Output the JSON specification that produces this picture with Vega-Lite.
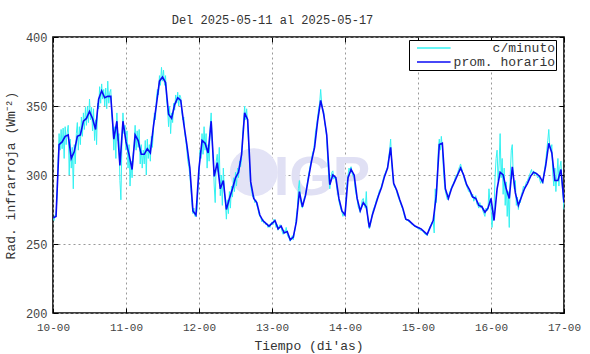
{
"$schema": "https://vega.github.io/schema/vega-lite/v6.json",
"width": 511, "height": 276,
"autosize": "none",
"padding": {"left": 53, "top": 37, "right": 26, "bottom": 41},
"background": "white",
"title": {"text": "Del 2025-05-11 al 2025-05-17", "font": "Liberation Mono", "fontSize": 12, "fontWeight": "normal", "color": "#333", "dx": -36, "offset": 4},
"config": {
  "view": {"stroke": "#000", "strokeWidth": 1.6},
  "axis": {"labelFont": "Liberation Mono", "titleFont": "Liberation Mono", "labelFontSize": 11, "titleFontSize": 13, "titleFontWeight": "normal", "labelColor": "#444", "titleColor": "#333", "domain": false, "tickColor": "#000", "tickSize": -5, "gridColor": "#999", "gridDash": [2, 3], "gridWidth": 1, "labelFlush": false}
},
"datasets": {
"hora": [
{"t":0,"v":269},{"t":1,"v":270},{"t":2,"v":322},{"t":3,"v":324},{"t":4,"v":328},{"t":5,"v":329},{"t":6,"v":312},{"t":7,"v":317},{"t":8,"v":328},{"t":9,"v":329},
{"t":10,"v":339},{"t":11,"v":341},{"t":12,"v":346},{"t":13,"v":341},{"t":14,"v":333},{"t":15,"v":355},{"t":16,"v":361},{"t":17,"v":356},{"t":18,"v":357},{"t":19,"v":357},
{"t":20,"v":326},{"t":21,"v":339},{"t":22,"v":307},{"t":23,"v":339},{"t":24,"v":324},{"t":25,"v":315},{"t":26,"v":304},{"t":27,"v":329},{"t":28,"v":325},{"t":29,"v":315},
{"t":30,"v":315},{"t":31,"v":319},{"t":32,"v":316},{"t":33,"v":335},{"t":34,"v":351},{"t":35,"v":368},{"t":36,"v":371},{"t":37,"v":367},{"t":38,"v":344},{"t":39,"v":341},
{"t":40,"v":351},{"t":41,"v":356},{"t":42,"v":354},{"t":43,"v":337},{"t":44,"v":322},{"t":45,"v":305},{"t":46,"v":274},{"t":47,"v":271},{"t":48,"v":305},{"t":49,"v":325},
{"t":50,"v":323},{"t":51,"v":316},{"t":52,"v":339},{"t":53,"v":299},{"t":54,"v":309},{"t":55,"v":290},{"t":56,"v":296},{"t":57,"v":275},{"t":58,"v":283},{"t":59,"v":290},
{"t":60,"v":298},{"t":61,"v":302},{"t":62,"v":315},{"t":63,"v":345},{"t":64,"v":340},{"t":65,"v":295},{"t":66,"v":283},{"t":67,"v":280},{"t":68,"v":271},{"t":69,"v":267},
{"t":70,"v":265},{"t":71,"v":263},{"t":72,"v":265},{"t":73,"v":267},{"t":74,"v":261},{"t":75,"v":263},{"t":76,"v":258},{"t":77,"v":259},{"t":78,"v":253},{"t":79,"v":255},
{"t":80,"v":266},{"t":81,"v":288},{"t":82,"v":277},{"t":83,"v":285},{"t":84,"v":298},{"t":85,"v":310},{"t":86,"v":320},{"t":87,"v":339},{"t":88,"v":354},{"t":89,"v":344},
{"t":90,"v":329},{"t":91,"v":293},{"t":92,"v":300},{"t":93,"v":298},{"t":94,"v":283},{"t":95,"v":274},{"t":96,"v":271},{"t":97,"v":298},{"t":98,"v":304},{"t":99,"v":300},
{"t":100,"v":283},{"t":101,"v":274},{"t":102,"v":280},{"t":103,"v":277},{"t":104,"v":262},{"t":105,"v":271},{"t":106,"v":278},{"t":107,"v":285},{"t":108,"v":291},{"t":109,"v":299},
{"t":110,"v":305},{"t":111,"v":320},{"t":112,"v":294},{"t":113,"v":289},{"t":114,"v":282},{"t":115,"v":276},{"t":116,"v":268},{"t":117,"v":267},{"t":118,"v":265},{"t":119,"v":263},
{"t":120,"v":262},{"t":121,"v":261},{"t":122,"v":259},{"t":123,"v":257},{"t":124,"v":262},{"t":125,"v":267},{"t":126,"v":285},{"t":127,"v":322},{"t":128,"v":323},{"t":129,"v":290},
{"t":130,"v":283},{"t":131,"v":290},{"t":132,"v":295},{"t":133,"v":300},{"t":134,"v":305},{"t":135,"v":300},{"t":136,"v":293},{"t":137,"v":289},{"t":138,"v":284},{"t":139,"v":283},
{"t":140,"v":278},{"t":141,"v":277},{"t":142,"v":273},{"t":143,"v":276},{"t":144,"v":283},{"t":145,"v":267},{"t":146,"v":290},{"t":147,"v":302},{"t":148,"v":300},{"t":149,"v":290},
{"t":150,"v":283},{"t":151,"v":306},{"t":152,"v":287},{"t":153,"v":278},{"t":154,"v":284},{"t":155,"v":290},{"t":156,"v":294},{"t":157,"v":299},{"t":158,"v":302},{"t":159,"v":301},
{"t":160,"v":299},{"t":161,"v":295},{"t":162,"v":307},{"t":163,"v":323},{"t":164,"v":316},{"t":165,"v":296},{"t":166,"v":296},{"t":167,"v":304},{"t":168,"v":280}
],
"minuto": [
{"t":0,"v":268},{"t":0.33,"v":267},{"t":0.67,"v":271},
{"t":1,"v":271},{"t":1.33,"v":285},{"t":1.67,"v":310},
{"t":2,"v":330},{"t":2.33,"v":318},{"t":2.67,"v":333},
{"t":3,"v":319},{"t":3.33,"v":334},{"t":3.67,"v":312},
{"t":4,"v":335},{"t":4.33,"v":322},{"t":4.67,"v":331},
{"t":5,"v":336},{"t":5.33,"v":300},{"t":5.67,"v":326},
{"t":6,"v":305},{"t":6.33,"v":320},{"t":6.67,"v":290},
{"t":7,"v":322},{"t":7.33,"v":308},{"t":7.67,"v":330},
{"t":8,"v":338},{"t":8.33,"v":318},{"t":8.67,"v":335},
{"t":9,"v":322},{"t":9.33,"v":342},{"t":9.67,"v":328},
{"t":10,"v":345},{"t":10.33,"v":333},{"t":10.67,"v":349},
{"t":11,"v":336},{"t":11.33,"v":350},{"t":11.67,"v":338},
{"t":12,"v":355},{"t":12.33,"v":340},{"t":12.67,"v":349},
{"t":13,"v":332},{"t":13.33,"v":348},{"t":13.67,"v":325},
{"t":14,"v":340},{"t":14.33,"v":322},{"t":14.67,"v":352},
{"t":15,"v":348},{"t":15.33,"v":364},{"t":15.67,"v":352},
{"t":16,"v":366},{"t":16.33,"v":355},{"t":16.67,"v":362},
{"t":17,"v":350},{"t":17.33,"v":363},{"t":17.67,"v":348},
{"t":18,"v":368},{"t":18.33,"v":352},{"t":18.67,"v":360},
{"t":19,"v":362},{"t":19.33,"v":345},{"t":19.67,"v":335},
{"t":20,"v":318},{"t":20.33,"v":335},{"t":20.67,"v":312},
{"t":21,"v":345},{"t":21.33,"v":325},{"t":21.67,"v":330},
{"t":22,"v":296},{"t":22.33,"v":282},{"t":22.67,"v":325},
{"t":23,"v":345},{"t":23.33,"v":330},{"t":23.67,"v":336},
{"t":24,"v":318},{"t":24.33,"v":332},{"t":24.67,"v":305},
{"t":25,"v":322},{"t":25.33,"v":292},{"t":25.67,"v":310},
{"t":26,"v":298},{"t":26.33,"v":315},{"t":26.67,"v":322},
{"t":27,"v":336},{"t":27.33,"v":318},{"t":27.67,"v":332},
{"t":28,"v":320},{"t":28.33,"v":333},{"t":28.67,"v":308},
{"t":29,"v":322},{"t":29.33,"v":305},{"t":29.67,"v":318},
{"t":30,"v":308},{"t":30.33,"v":325},{"t":30.67,"v":300},
{"t":31,"v":326},{"t":31.33,"v":312},{"t":31.67,"v":322},
{"t":32,"v":310},{"t":32.33,"v":328},{"t":32.67,"v":320},
{"t":33,"v":332},{"t":33.33,"v":345},{"t":33.67,"v":340},
{"t":34,"v":355},{"t":34.33,"v":362},{"t":34.67,"v":358},
{"t":35,"v":372},{"t":35.33,"v":365},{"t":35.67,"v":378},
{"t":36,"v":368},{"t":36.33,"v":376},{"t":36.67,"v":365},
{"t":37,"v":372},{"t":37.33,"v":355},{"t":37.67,"v":348},
{"t":38,"v":335},{"t":38.33,"v":350},{"t":38.67,"v":330},
{"t":39,"v":345},{"t":39.33,"v":338},{"t":39.67,"v":352},
{"t":40,"v":347},{"t":40.33,"v":358},{"t":40.67,"v":352},
{"t":41,"v":360},{"t":41.33,"v":350},{"t":41.67,"v":358},
{"t":42,"v":356},{"t":42.33,"v":346},{"t":42.67,"v":340},
{"t":43,"v":342},{"t":43.33,"v":330},{"t":43.67,"v":325},
{"t":44,"v":318},{"t":44.33,"v":310},{"t":44.67,"v":306},
{"t":45,"v":300},{"t":45.33,"v":290},{"t":45.67,"v":280},
{"t":46,"v":272},{"t":46.33,"v":276},{"t":46.67,"v":270},
{"t":47,"v":270},{"t":47.33,"v":274},{"t":47.67,"v":290},
{"t":48,"v":300},{"t":48.33,"v":318},{"t":48.67,"v":312},
{"t":49,"v":330},{"t":49.33,"v":315},{"t":49.67,"v":335},
{"t":50,"v":318},{"t":50.33,"v":330},{"t":50.67,"v":305},
{"t":51,"v":322},{"t":51.33,"v":310},{"t":51.67,"v":335},
{"t":52,"v":345},{"t":52.33,"v":325},{"t":52.67,"v":312},
{"t":53,"v":292},{"t":53.33,"v":280},{"t":53.67,"v":310},
{"t":54,"v":315},{"t":54.33,"v":302},{"t":54.67,"v":320},
{"t":55,"v":285},{"t":55.33,"v":300},{"t":55.67,"v":278},
{"t":56,"v":305},{"t":56.33,"v":288},{"t":56.67,"v":280},
{"t":57,"v":268},{"t":57.33,"v":282},{"t":57.67,"v":272},
{"t":58,"v":288},{"t":58.33,"v":276},{"t":58.67,"v":292},
{"t":59,"v":284},{"t":59.33,"v":298},{"t":59.67,"v":288},
{"t":60,"v":302},{"t":60.33,"v":292},{"t":60.67,"v":305},
{"t":61,"v":298},{"t":61.33,"v":310},{"t":61.67,"v":306},
{"t":62,"v":312},{"t":62.33,"v":328},{"t":62.67,"v":338},
{"t":63,"v":350},{"t":63.33,"v":340},{"t":63.67,"v":348},
{"t":64,"v":336},{"t":64.33,"v":322},{"t":64.67,"v":305},
{"t":65,"v":292},{"t":65.33,"v":288},{"t":65.67,"v":284},
{"t":66,"v":285},{"t":66.33,"v":280},{"t":66.67,"v":282},
{"t":67,"v":278},{"t":67.33,"v":276},{"t":67.67,"v":272},
{"t":68,"v":270},{"t":68.33,"v":269},{"t":68.67,"v":266},
{"t":69,"v":268},{"t":69.33,"v":265},{"t":69.67,"v":266},
{"t":70,"v":264},{"t":70.33,"v":265},{"t":70.67,"v":262},
{"t":71,"v":264},{"t":71.33,"v":262},{"t":71.67,"v":265},
{"t":72,"v":266},{"t":72.33,"v":264},{"t":72.67,"v":268},
{"t":73,"v":266},{"t":73.33,"v":262},{"t":73.67,"v":264},
{"t":74,"v":260},{"t":74.33,"v":263},{"t":74.67,"v":264},
{"t":75,"v":262},{"t":75.33,"v":259},{"t":75.67,"v":257},
{"t":76,"v":260},{"t":76.33,"v":258},{"t":76.67,"v":262},
{"t":77,"v":257},{"t":77.33,"v":255},{"t":77.67,"v":254},
{"t":78,"v":252},{"t":78.33,"v":254},{"t":78.67,"v":256},
{"t":79,"v":253},{"t":79.33,"v":258},{"t":79.67,"v":262},
{"t":80,"v":270},{"t":80.33,"v":276},{"t":80.67,"v":290},
{"t":81,"v":296},{"t":81.33,"v":282},{"t":81.67,"v":278},
{"t":82,"v":276},{"t":82.33,"v":281},{"t":82.67,"v":284},
{"t":83,"v":286},{"t":83.33,"v":290},{"t":83.67,"v":295},
{"t":84,"v":300},{"t":84.33,"v":304},{"t":84.67,"v":308},
{"t":85,"v":311},{"t":85.33,"v":316},{"t":85.67,"v":318},
{"t":86,"v":324},{"t":86.33,"v":332},{"t":86.67,"v":336},
{"t":87,"v":342},{"t":87.33,"v":348},{"t":87.67,"v":352},
{"t":88,"v":362},{"t":88.33,"v":352},{"t":88.67,"v":348},
{"t":89,"v":346},{"t":89.33,"v":338},{"t":89.67,"v":334},
{"t":90,"v":326},{"t":90.33,"v":310},{"t":90.67,"v":298},
{"t":91,"v":290},{"t":91.33,"v":296},{"t":91.67,"v":302},
{"t":92,"v":303},{"t":92.33,"v":297},{"t":92.67,"v":299},
{"t":93,"v":296},{"t":93.33,"v":290},{"t":93.67,"v":286},
{"t":94,"v":281},{"t":94.33,"v":278},{"t":94.67,"v":275},
{"t":95,"v":273},{"t":95.33,"v":270},{"t":95.67,"v":272},
{"t":96,"v":272},{"t":96.33,"v":282},{"t":96.67,"v":294},
{"t":97,"v":300},{"t":97.33,"v":305},{"t":97.67,"v":303},
{"t":98,"v":306},{"t":98.33,"v":301},{"t":98.67,"v":299},
{"t":99,"v":298},{"t":99.33,"v":290},{"t":99.67,"v":286},
{"t":100,"v":282},{"t":100.33,"v":277},{"t":100.67,"v":275},
{"t":101,"v":273},{"t":101.33,"v":277},{"t":101.67,"v":282},
{"t":102,"v":283},{"t":102.33,"v":279},{"t":102.67,"v":276},
{"t":103,"v":288},{"t":103.33,"v":272},{"t":103.67,"v":265},
{"t":104,"v":261},{"t":104.33,"v":264},{"t":104.67,"v":268},
{"t":105,"v":272},{"t":105.33,"v":275},{"t":105.67,"v":277},
{"t":106,"v":279},{"t":106.33,"v":282},{"t":106.67,"v":284},
{"t":107,"v":286},{"t":107.33,"v":289},{"t":107.67,"v":290},
{"t":108,"v":292},{"t":108.33,"v":295},{"t":108.67,"v":298},
{"t":109,"v":300},{"t":109.33,"v":302},{"t":109.67,"v":304},
{"t":110,"v":306},{"t":110.33,"v":312},{"t":110.67,"v":318},
{"t":111,"v":326},{"t":111.33,"v":310},{"t":111.67,"v":300},
{"t":112,"v":293},{"t":112.33,"v":291},{"t":112.67,"v":290},
{"t":113,"v":288},{"t":113.33,"v":285},{"t":113.67,"v":283},
{"t":114,"v":281},{"t":114.33,"v":279},{"t":114.67,"v":277},
{"t":115,"v":275},{"t":115.33,"v":272},{"t":115.67,"v":269},
{"t":116,"v":268},{"t":116.33,"v":267},{"t":116.67,"v":268},
{"t":117,"v":266},{"t":117.33,"v":266},{"t":117.67,"v":265},
{"t":118,"v":264},{"t":118.33,"v":264},{"t":118.67,"v":263},
{"t":119,"v":263},{"t":119.33,"v":262},{"t":119.67,"v":262},
{"t":120,"v":261},{"t":120.33,"v":262},{"t":120.67,"v":260},
{"t":121,"v":260},{"t":121.33,"v":260},{"t":121.67,"v":259},
{"t":122,"v":258},{"t":122.33,"v":257},{"t":122.67,"v":257},
{"t":123,"v":256},{"t":123.33,"v":258},{"t":123.67,"v":261},
{"t":124,"v":263},{"t":124.33,"v":264},{"t":124.67,"v":266},
{"t":125,"v":266},{"t":125.33,"v":258},{"t":125.67,"v":290},
{"t":126,"v":280},{"t":126.33,"v":300},{"t":126.67,"v":318},
{"t":127,"v":326},{"t":127.33,"v":318},{"t":127.67,"v":328},
{"t":128,"v":320},{"t":128.33,"v":305},{"t":128.67,"v":294},
{"t":129,"v":288},{"t":129.33,"v":285},{"t":129.67,"v":282},
{"t":130,"v":284},{"t":130.33,"v":287},{"t":130.67,"v":289},
{"t":131,"v":291},{"t":131.33,"v":293},{"t":131.67,"v":294},
{"t":132,"v":296},{"t":132.33,"v":299},{"t":132.67,"v":300},
{"t":133,"v":301},{"t":133.33,"v":304},{"t":133.67,"v":306},
{"t":134,"v":308},{"t":134.33,"v":305},{"t":134.67,"v":302},
{"t":135,"v":299},{"t":135.33,"v":296},{"t":135.67,"v":294},
{"t":136,"v":292},{"t":136.33,"v":290},{"t":136.67,"v":288},
{"t":137,"v":288},{"t":137.33,"v":286},{"t":137.67,"v":284},
{"t":138,"v":286},{"t":138.33,"v":281},{"t":138.67,"v":283},
{"t":139,"v":285},{"t":139.33,"v":279},{"t":139.67,"v":278},
{"t":140,"v":276},{"t":140.33,"v":280},{"t":140.67,"v":276},
{"t":141,"v":278},{"t":141.33,"v":274},{"t":141.67,"v":272},
{"t":142,"v":270},{"t":142.33,"v":276},{"t":142.67,"v":274},
{"t":143,"v":275},{"t":143.33,"v":290},{"t":143.67,"v":280},
{"t":144,"v":276},{"t":144.33,"v":262},{"t":144.67,"v":272},
{"t":145,"v":275},{"t":145.33,"v":298},{"t":145.67,"v":312},
{"t":146,"v":318},{"t":146.33,"v":296},{"t":146.67,"v":308},
{"t":147,"v":330},{"t":147.33,"v":298},{"t":147.67,"v":312},
{"t":148,"v":286},{"t":148.33,"v":305},{"t":148.67,"v":278},
{"t":149,"v":295},{"t":149.33,"v":270},{"t":149.67,"v":288},
{"t":150,"v":262},{"t":150.33,"v":300},{"t":150.67,"v":318},
{"t":151,"v":322},{"t":151.33,"v":298},{"t":151.67,"v":290},
{"t":152,"v":296},{"t":152.33,"v":278},{"t":152.67,"v":284},
{"t":153,"v":275},{"t":153.33,"v":282},{"t":153.67,"v":280},
{"t":154,"v":286},{"t":154.33,"v":288},{"t":154.67,"v":292},
{"t":155,"v":290},{"t":155.33,"v":293},{"t":155.67,"v":295},
{"t":156,"v":296},{"t":156.33,"v":298},{"t":156.67,"v":300},
{"t":157,"v":302},{"t":157.33,"v":304},{"t":157.67,"v":300},
{"t":158,"v":303},{"t":158.33,"v":300},{"t":158.67,"v":302},
{"t":159,"v":300},{"t":159.33,"v":298},{"t":159.67,"v":299},
{"t":160,"v":297},{"t":160.33,"v":294},{"t":160.67,"v":296},
{"t":161,"v":294},{"t":161.33,"v":300},{"t":161.67,"v":305},
{"t":162,"v":310},{"t":162.33,"v":318},{"t":162.67,"v":325},
{"t":163,"v":333},{"t":163.33,"v":320},{"t":163.67,"v":318},
{"t":164,"v":322},{"t":164.33,"v":300},{"t":164.67,"v":292},
{"t":165,"v":305},{"t":165.33,"v":288},{"t":165.67,"v":300},
{"t":166,"v":312},{"t":166.33,"v":292},{"t":166.67,"v":306},
{"t":167,"v":310},{"t":167.33,"v":295},{"t":167.67,"v":285},
{"t":168,"v":275}
]
},
"layer": [
  {
    "data": {"values": [{}]},
    "mark": {"type": "point", "filled": true, "color": "#e3e3f6", "opacity": 1, "size": 2300, "shape": "circle"},
    "encoding": {
      "x": {"datum": 66, "type": "quantitative", "scale": {"domain": [0, 168], "nice": false, "zero": false}, "axis": null},
      "y": {"datum": 302, "type": "quantitative", "scale": {"domain": [200, 400], "nice": false, "zero": false}, "axis": null}
    }
  },
  {
    "data": {"values": [{}]},
    "mark": {"type": "text", "text": "IGP", "font": "Liberation Sans", "fontWeight": "bold", "fontSize": 56, "color": "#e0e0f4", "align": "center", "baseline": "middle"},
    "encoding": {
      "x": {"datum": 88.4, "type": "quantitative", "axis": null},
      "y": {"datum": 298, "type": "quantitative", "axis": null}
    }
  },
  {
    "data": {"name": "minuto"},
    "mark": {"type": "line", "strokeWidth": 1, "clip": true},
    "encoding": {
      "x": {"field": "t", "type": "quantitative", "scale": {"domain": [0, 168], "nice": false, "zero": false},
            "axis": {"orient": "bottom", "values": [0, 24, 48, 72, 96, 120, 144, 168], "labelExpr": "(10 + datum.value/24) + '-00'", "title": "Tiempo (di'as)", "grid": true, "labelPadding": 13, "titlePadding": 7}},
      "y": {"field": "v", "type": "quantitative", "scale": {"domain": [200, 400], "nice": false, "zero": false},
            "axis": {"orient": "left", "values": [200, 250, 300, 350, 400], "title": "Rad. infrarroja (Wm⁻²)", "grid": true, "labelFontSize": 12, "labelPadding": 11, "titlePadding": 8}},
      "color": {"datum": "c/minuto", "type": "nominal",
        "scale": {"domain": ["c/minuto", "prom. horario"], "range": ["#33f2f2", "#0a0af5"]},
        "legend": {"orient": "none", "legendX": 356, "legendY": 3, "title": null, "symbolType": "M0,0H5.6", "symbolSize": 144, "symbolStrokeWidth": 1.5, "labelFont": "Liberation Mono", "labelFontSize": 13, "labelColor": "#333", "strokeColor": "#000", "fillColor": "white", "padding": 1, "rowPadding": 0, "labelAlign": "right", "labelOffset": 131}}
    }
  },
  {
    "data": {"name": "hora"},
    "mark": {"type": "line", "strokeWidth": 1.6, "clip": true},
    "encoding": {
      "x": {"field": "t", "type": "quantitative", "axis": {"orient": "top", "values": [0, 24, 48, 72, 96, 120, 144, 168], "labels": false, "title": null, "grid": false}},
      "y": {"field": "v", "type": "quantitative", "axis": {"orient": "right", "values": [200, 250, 300, 350, 400], "labels": false, "title": null, "grid": false}},
      "color": {"datum": "prom. horario", "type": "nominal"}
    }
  }
],
"resolve": {"axis": {"x": "independent", "y": "independent"}}
}
